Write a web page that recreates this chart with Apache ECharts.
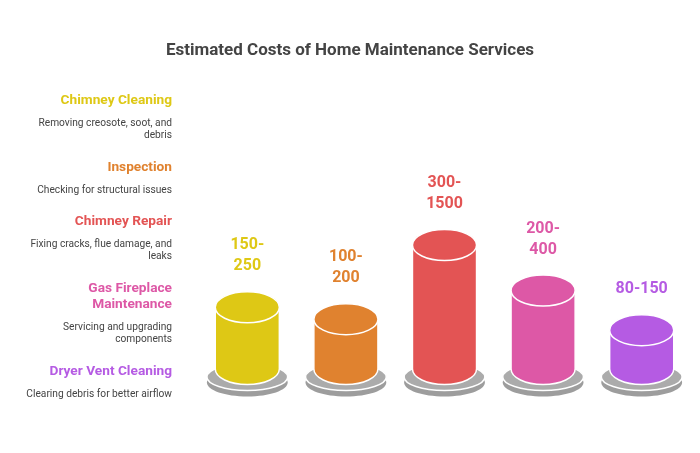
<!DOCTYPE html>
<html>
<head>
<meta charset="utf-8">
<script src="https://cdn.jsdelivr.net/npm/echarts@6/dist/echarts.min.js"></script>
<style>html,body{margin:0;padding:0;background:#fff}#c{width:700px;height:453px}</style>
</head>
<body>
<div id="c"></div>
<script>
const titleText = 'Estimated Costs of Home Maintenance Services';
const categories = ['Chimney Cleaning', 'Inspection', 'Chimney Repair', 'Gas Fireplace\nMaintenance', 'Dryer Vent Cleaning'];
const descriptions = ['Removing creosote, soot, and\ndebris', 'Checking for structural issues', 'Fixing cracks, flue damage, and\nleaks', 'Servicing and upgrading\ncomponents', 'Clearing debris for better airflow'];
const lowCost = [150, 100, 300, 200, 80];
const highCost = [250, 200, 1500, 400, 150];
const colors = ['#DEC815', '#E0822F', '#E35454', '#DD58A6', '#B55BE3'];

const yMin = 45, yMax = 2000;
const font = 'Roboto, "Noto Sans", sans-serif';

const seriesData = categories.map((c, i) => [i, (lowCost[i] + highCost[i]) / 2, lowCost[i], highCost[i]]);

function fmt(lo, hi) {
  const s = lo + '-' + hi;
  return s.length > 6 ? lo + '-\n' + hi : s;
}

// left-side captions
const graphics = [];
let y = 100.7;
categories.forEach((c, i) => {
  const tl = c.split('\n');
  graphics.push({type: 'text', x: 172, y: y + (tl.length - 1) * 16.4 / 2, style: {text: c, font: 'bold 13.7px ' + font, fill: colors[i], align: 'right', verticalAlign: 'middle', lineHeight: 16.4}});
  y += (tl.length - 1) * 16.4 + 22.8;
  const dl = descriptions[i].split('\n');
  graphics.push({type: 'text', x: 172, y: y + (dl.length - 1) * 11.7 / 2, style: {text: descriptions[i], font: '10.2px ' + font, fill: '#444', align: 'right', verticalAlign: 'middle', lineHeight: 11.7}});
  y += (dl.length - 1) * 11.7 + 32;
});

const chart = echarts.init(document.getElementById('c'), null, {renderer: 'canvas'});
chart.setOption({
  animation: false,
  backgroundColor: '#fff',
  title: {text: titleText, left: 'center', top: 37, textStyle: {fontFamily: font, fontSize: 17, fontWeight: 'bold', color: '#444'}},
  grid: {left: 198, right: 9, top: 212, bottom: 84},
  xAxis: {type: 'category', data: categories, show: false},
  yAxis: {type: 'log', logBase: 10, min: yMin, max: yMax, show: false},
  graphic: graphics,
  series: [{
    type: 'custom',
    data: seriesData,
    encode: {x: 0, y: 1},
    renderItem: function (params, api) {
      const i = api.value(0);
      const top = api.coord([i, api.value(1)]);
      const base = api.coord([i, yMin]);
      const cx = top[0];
      const rx = api.size([1, 0])[0] * 0.325;
      const ry = 15.5;
      const ty = top[1], by = base[1];
      const col = colors[i];
      const brx = rx * 1.26;
      return {
        type: 'group',
        children: [
          {type: 'ellipse', shape: {cx: cx, cy: by + 13.5, rx: brx, ry: 14}, style: {fill: '#9d9d9d'}},
          {type: 'ellipse', shape: {cx: cx, cy: by + 8, rx: brx, ry: 13.5}, style: {fill: '#ababab', stroke: '#fff', lineWidth: 1.5}},
          {type: 'path', shape: {pathData: 'M' + (cx - rx) + ',' + ty + ' L' + (cx - rx) + ',' + by + ' A' + rx + ',' + ry + ' 0 0 0 ' + (cx + rx) + ',' + by + ' L' + (cx + rx) + ',' + ty + ' Z'}, style: {fill: col, stroke: '#fff', lineWidth: 1.5}},
          {type: 'ellipse', shape: {cx: cx, cy: ty, rx: rx, ry: ry}, style: {fill: col, stroke: '#fff', lineWidth: 1.5}},
          {type: 'text', style: {text: fmt(api.value(2), api.value(3)), x: cx, y: ty - ry - 15, align: 'center', verticalAlign: 'bottom', font: 'bold 16px ' + font, fill: col, lineHeight: 21}}
        ]
      };
    }
  }]
});
</script>
</body>
</html>
